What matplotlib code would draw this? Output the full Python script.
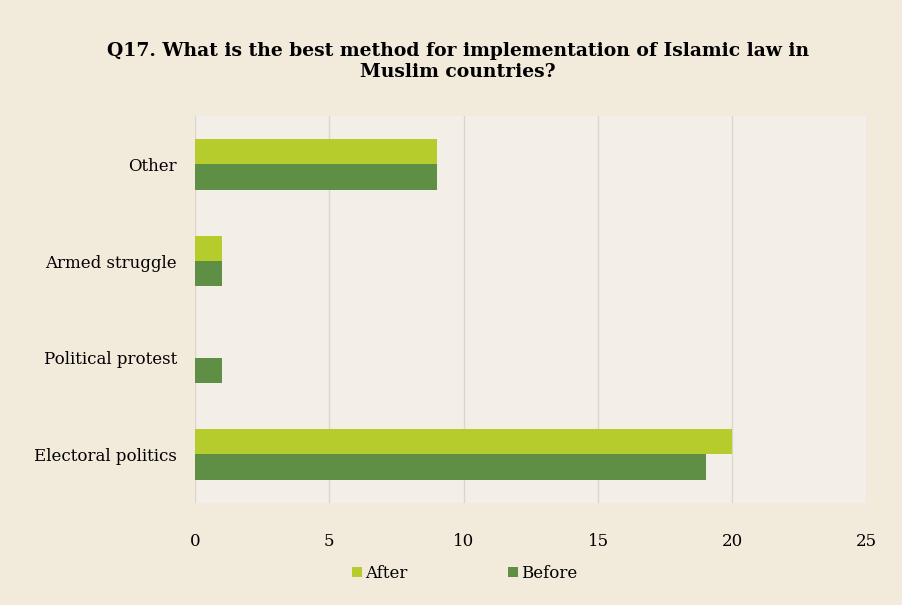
import matplotlib.pyplot as plt
import numpy as np

categories = ['Electoral politics', 'Political protest', 'Armed struggle', 'Other']
after = [20, 0, 1, 9]
before = [19, 1, 1, 9]
x_ticks = [0, 5, 10, 15, 20, 25]

c_after = '#b6cb2c'
c_before = '#5f8f45'
bg = '#f2eadb'
plot_bg = '#f3efe8'

plt.rcParams['font.family'] = ['DejaVu Serif']

fig = plt.figure(figsize=(9.02, 6.05), dpi=100, facecolor=bg)
ax = fig.add_axes([0.216, 0.169, 0.745, 0.639])
ax.set_facecolor(plot_bg)

y = np.arange(len(categories))
h = 0.26
ax.barh(y + h / 2, after, height=h, color=c_after, label='After', zorder=3)
ax.barh(y - h / 2, before, height=h, color=c_before, label='Before', zorder=3)

ax.set_xlim(0, 25)
ax.set_ylim(-0.5, 3.5)
ax.set_xticks(x_ticks)
ax.set_yticks(y)
ax.set_yticklabels(categories)
ax.grid(axis='x', color='#dcd5ca', linewidth=1, zorder=0)
for s in ax.spines.values():
    s.set_visible(False)
ax.tick_params(axis='x', length=0, pad=22, labelsize=12)
ax.tick_params(axis='y', length=0, pad=13, labelsize=12)

fig.text(0.508, 0.899,
         'Q17. What is the best method for implementation of Islamic law in\nMuslim countries?',
         ha='center', va='center', fontsize=13.5, fontweight='bold', linespacing=1.2)

leg = fig.legend(loc='center', bbox_to_anchor=(0.515, 0.052), ncol=2, frameon=False,
                 fontsize=12, handlelength=0.6, handleheight=0.6, handletextpad=0.2,
                 columnspacing=6)

plt.savefig('out.png', dpi=100, facecolor=bg)
